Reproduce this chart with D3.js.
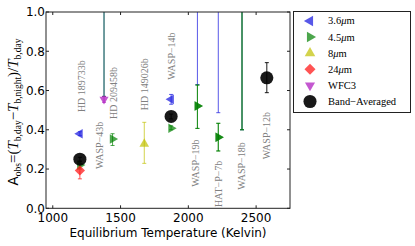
<!DOCTYPE html>
<html lang="en">
<head>
    <meta charset="UTF-8">
    <title>Phase offset vs Teq</title>
    <style>
        body { margin: 0; background: #fff; }
        svg { display: block; }
        .tick-label { font-family: 'DejaVu Sans', sans-serif; font-size: 12px; fill: #000; }
        .planet { font-family: 'Liberation Serif', serif; font-size: 10px; fill: #808080; }
        .legend text { font-family: 'Liberation Serif', serif; font-size: 10.5px; fill: #000; }
    </style>
</head>
<body>
    <div id="chart"></div>

    <script src="https://d3js.org/d3.v7.min.js"></script>
    <script>
        // planets and their equilibrium temperatures (K)
        const planets = ['HD 189733b', 'WASP−43b', 'HD 209458b', 'HD 149026b', 'WASP−14b', 'WASP−19b', 'HAT−P−7b', 'WASP−18b', 'WASP−12b']
        const teq = [1200, 1378, 1441, 1675, 1873, 2067, 2221, 2396, 2579]

        // name label anchors: temperature, A value at the bottom of the label
        const labelTeq = [1215, 1349, 1453, 1678, 1880, 2056, 2226, 2392, 2579]
        const labelBase = [0.49, 0.20, 0.455, 0.50, 0.655, 0.11, 0.007, 0.095, 0.25]

        // [planet index, value, lower, upper]; values above 1 are off the plot
        const band36 = [[0, 0.38, 0.37, 0.39], [1, 1.5, 0.57, 1.5], [4, 0.555, 0.53, 0.58],
                        [5, 1.5, 0.63, 1.5], [6, 1.5, 0.487, 1.5], [7, 1.5, 0.40, 1.5]]
        const band45 = [[0, 0.22, 0.20, 0.24], [1, 1.5, 0.57, 1.5], [2, 0.353, 0.32, 0.38],
                        [4, 0.408, 0.40, 0.42], [5, 0.521, 0.407, 0.628], [5, 0.521, 0.407, 0.628],
                        [6, 0.362, 0.292, 0.433], [6, 0.362, 0.292, 0.433], [7, 1.5, 0.40, 1.5], [7, 1.5, 0.40, 1.5]]
        const band8 = [[3, 0.328, 0.229, 0.438]]
        const band24 = [[0, 0.193, 0.15, 0.23]]
        const bandWfc3 = [[1, 0.555, 0.54, 0.57]]
        const bandAvg = [[0, 0.25, 0.24, 0.26], [4, 0.468, 0.455, 0.48], [8, 0.665, 0.589, 0.742]]

        const legendLabels = ['3.6', '4.5', '8', '24', 'WFC3', 'Band−Averaged']
        const xTicks = [1000, 1500, 2000, 2500]
        const yTicks = [0, 0.2, 0.4, 0.6, 0.8, 1.0]

        const width = 415
        const height = 246
        const plot = { left: 46, right: 290, top: 12, bottom: 208.3 }

        const x = d3.scaleLinear().domain([950, 2750]).range([plot.left, plot.right])
        const y = d3.scaleLinear().domain([0, 1]).range([plot.bottom, plot.top])

        const svg = d3.select('#chart').append('svg')
            .attr('width', width)
            .attr('height', height)

        svg.append('clipPath').attr('id', 'clip')
            .append('rect')
            .attr('x', plot.left).attr('y', plot.top)
            .attr('width', plot.right - plot.left).attr('height', plot.bottom - plot.top)

        // marker styles per band
        const series = [
            { data: band36, color: '#2020e0', opacity: 0.75, shape: d3.symbolTriangle, rot: -90, size: 40 },
            { data: band45, color: '#008000', opacity: 0.7, shape: d3.symbolTriangle, rot: 90, size: 40 },
            { data: band8, color: '#c0c000', opacity: 0.7, shape: d3.symbolTriangle, rot: 0, size: 40 },
            { data: band24, color: '#ff1a1a', opacity: 0.75, shape: d3.symbolSquare, rot: 45, size: 52 },
            { data: bandWfc3, color: '#b020c0', opacity: 0.75, shape: d3.symbolTriangle, rot: 180, size: 36 },
            { data: bandAvg, color: '#000', opacity: 0.9, shape: d3.symbolCircle, rot: 0, size: 135 }
        ]

        // planet name labels
        svg.append('g')
            .selectAll('text')
            .data(planets)
            .join('text')
            .attr('class', 'planet')
            .attr('transform', (d, i) => `translate(${x(labelTeq[i])}, ${y(labelBase[i])}) rotate(-90)`)
            .attr('dy', '0.33em')
            .text(d => d)

        const marks = svg.append('g').attr('clip-path', 'url(#clip)')

        series.forEach(s => {
            const g = marks.append('g')
                .attr('stroke', s.color)
                .attr('stroke-opacity', s.opacity)
                .attr('stroke-width', 1)
            g.selectAll('line.err')
                .data(s.data)
                .join('line')
                .attr('class', 'err')
                .attr('x1', d => x(teq[d[0]])).attr('x2', d => x(teq[d[0]]))
                .attr('y1', d => y(d[2])).attr('y2', d => y(d[3]))
            g.selectAll('line.cap-lo')
                .data(s.data)
                .join('line')
                .attr('class', 'cap-lo')
                .attr('x1', d => x(teq[d[0]]) - 2).attr('x2', d => x(teq[d[0]]) + 2)
                .attr('y1', d => y(d[2])).attr('y2', d => y(d[2]))
            g.selectAll('line.cap-hi')
                .data(s.data)
                .join('line')
                .attr('class', 'cap-hi')
                .attr('x1', d => x(teq[d[0]]) - 2).attr('x2', d => x(teq[d[0]]) + 2)
                .attr('y1', d => y(d[3])).attr('y2', d => y(d[3]))
        })

        series.forEach(s => {
            marks.append('g')
                .selectAll('path')
                .data(s.data)
                .join('path')
                .attr('d', d3.symbol().type(s.shape).size(s.size))
                .attr('transform', d => `translate(${x(teq[d[0]])}, ${y(d[1])}) rotate(${s.rot})`)
                .attr('fill', s.color)
                .attr('fill-opacity', s.opacity)
        })

        // frame and ticks
        const axes = svg.append('g').attr('stroke', '#222').attr('stroke-width', 1)
        axes.append('rect')
            .attr('x', plot.left).attr('y', plot.top)
            .attr('width', plot.right - plot.left).attr('height', plot.bottom - plot.top)
            .attr('fill', 'none')
        xTicks.forEach(t => {
            axes.append('line').attr('x1', x(t)).attr('x2', x(t)).attr('y1', plot.bottom).attr('y2', plot.bottom - 3)
            axes.append('line').attr('x1', x(t)).attr('x2', x(t)).attr('y1', plot.top).attr('y2', plot.top + 3)
        })
        yTicks.forEach(t => {
            axes.append('line').attr('x1', plot.left).attr('x2', plot.left + 3).attr('y1', y(t)).attr('y2', y(t))
            axes.append('line').attr('x1', plot.right).attr('x2', plot.right - 3).attr('y1', y(t)).attr('y2', y(t))
        })

        svg.append('g').selectAll('text')
            .data(xTicks)
            .join('text')
            .attr('class', 'tick-label')
            .attr('x', d => x(d))
            .attr('y', 222)
            .attr('text-anchor', 'middle')
            .text(d => d)

        svg.append('g').selectAll('text')
            .data(yTicks)
            .join('text')
            .attr('class', 'tick-label')
            .attr('x', plot.left - 1)
            .attr('y', d => y(d))
            .attr('dy', '0.36em')
            .attr('text-anchor', 'end')
            .text(d => d.toFixed(1))

        svg.append('text')
            .attr('class', 'tick-label')
            .attr('x', (plot.left + plot.right) / 2)
            .attr('y', 237)
            .attr('text-anchor', 'middle')
            .text('Equilibrium Temperature (Kelvin)')

        // y label: A_obs = (T_b,day − T_b,night)/T_b,day
        const yl = svg.append('text')
            .attr('transform', `translate(18, 112) rotate(-90)`)
            .attr('text-anchor', 'middle')
            .style('font-family', "'Liberation Serif', serif")
            .style('font-size', '15px')
        const sub = (t) => yl.append('tspan').attr('font-size', '9.5px').attr('dy', 3).text(t)
        const up = (t) => yl.append('tspan').attr('dy', -3).text(t)
        yl.append('tspan').style('font-family', "'DejaVu Sans', sans-serif").style('font-size', '13.5px').text('A')
        sub('obs')
        up('=(')
        yl.append('tspan').attr('font-style', 'italic').text('T')
        sub('b,day')
        up('−')
        yl.append('tspan').attr('font-style', 'italic').text('T')
        sub('b,night')
        up(')/')
        yl.append('tspan').attr('font-style', 'italic').text('T')
        sub('b,day')

        // legend
        const legend = svg.append('g').attr('class', 'legend')
        legend.append('rect')
            .attr('x', 293.5).attr('y', 11.5)
            .attr('width', 117).attr('height', 101)
            .attr('fill', '#fff').attr('stroke', '#222')
        const ly = d3.scalePoint().domain(d3.range(legendLabels.length)).range([21, 101.5])
        series.forEach((s, i) => {
            legend.append('path')
                .attr('d', d3.symbol().type(s.shape).size(i === 5 ? 135 : s.size + 8))
                .attr('transform', `translate(310, ${ly(i)}) rotate(${s.rot})`)
                .attr('fill', s.color)
                .attr('fill-opacity', s.opacity)
            const t = legend.append('text')
                .attr('x', 328)
                .attr('y', ly(i))
                .attr('dy', '0.33em')
            t.append('tspan').text(legendLabels[i])
            if (i < 4) t.append('tspan').attr('font-style', 'italic').text('μ').append('tspan').attr('font-style', 'normal').text('m')
        })
    </script>
</body>
</html>
